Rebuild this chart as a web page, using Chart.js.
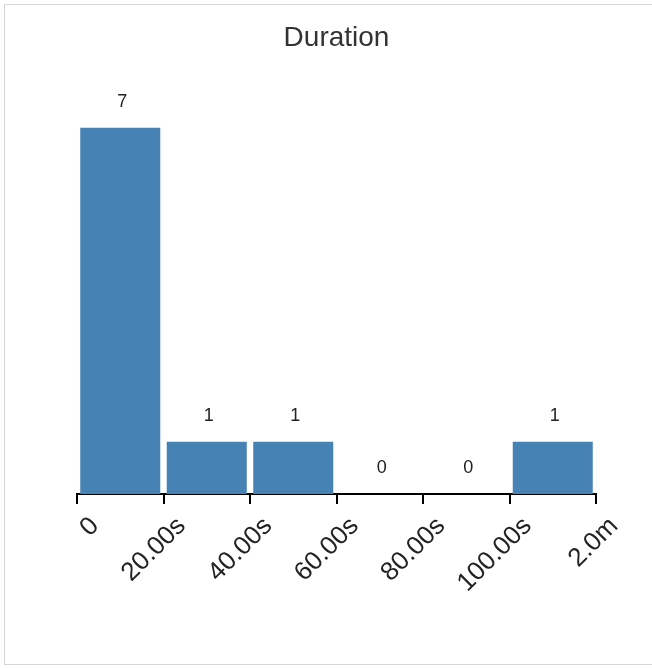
<!DOCTYPE html>
<html>
<head>
<meta charset="utf-8">
<script src="https://cdn.jsdelivr.net/npm/chart.js@4"></script>
<style>
  body { margin: 0; background: #fff; overflow: hidden; }
  #box {
    position: absolute; left: 4px; top: 4px;
    width: 660px; height: 661px;
    border: 1px solid #d6d6d6; box-sizing: border-box;
  }
  #wrap { width: 658px; height: 659px; }
</style>
</head>
<body>
<div id="box"><div id="wrap"><canvas id="chart"></canvas></div></div>
<script>
// bin centres (seconds) and counts
const binCenters = [10, 30, 50, 70, 90, 110];
const counts = [7, 1, 1, 0, 0, 1];
const tickLabels = ['0', '20.00s', '40.00s', '60.00s', '80.00s', '100.00s', '2.0m'];

const font = 'Liberation Sans, Arial, sans-serif';

// draws the count above each bin
const valueLabels = {
  id: 'valueLabels',
  afterDatasetsDraw(chart) {
    const ctx = chart.ctx;
    const meta = chart.getDatasetMeta(0);
    ctx.save();
    ctx.font = '18px ' + font;
    ctx.fillStyle = '#222';
    ctx.textAlign = 'center';
    ctx.textBaseline = 'middle';
    meta.data.forEach((bar, i) => {
      ctx.fillText(String(counts[i]), bar.x + 2, bar.y - 26);
    });
    ctx.restore();
  }
};

new Chart(document.getElementById('chart'), {
  type: 'bar',
  data: {
    datasets: [{
      data: binCenters.map((x, i) => ({ x: x, y: counts[i] })),
      backgroundColor: '#4682b4',
      barPercentage: 0.925,
      categoryPercentage: 1
    }]
  },
  options: {
    responsive: true,
    maintainAspectRatio: false,
    animation: false,
    layout: { padding: { left: 72, right: 67, top: 16, bottom: 70 } },
    plugins: {
      legend: { display: false },
      tooltip: { enabled: false },
      title: {
        display: true,
        text: 'Duration',
        color: '#333',
        font: { family: font, size: 28, weight: 'normal' },
        padding: { top: 0, bottom: 73 }
      }
    },
    scales: {
      x: {
        type: 'linear',
        min: 0,
        max: 120,
        offset: false,
        afterFit: s => { s.height = 100; },
        border: { display: true, color: '#000', width: 2 },
        grid: { offset: false, drawOnChartArea: false, drawTicks: true, tickLength: 10, color: '#000', lineWidth: 2 },
        ticks: {
          stepSize: 20,
          autoSkip: false,
          maxRotation: 45,
          minRotation: 45,
          color: '#222',
          padding: 7,
          labelOffset: 18,
          font: { family: font, size: 26 },
          callback: (v) => tickLabels[Math.round(v / 20)]
        }
      },
      y: {
        display: false,
        min: 0,
        max: 7
      }
    }
  },
  plugins: [valueLabels]
});
</script>
</body>
</html>
